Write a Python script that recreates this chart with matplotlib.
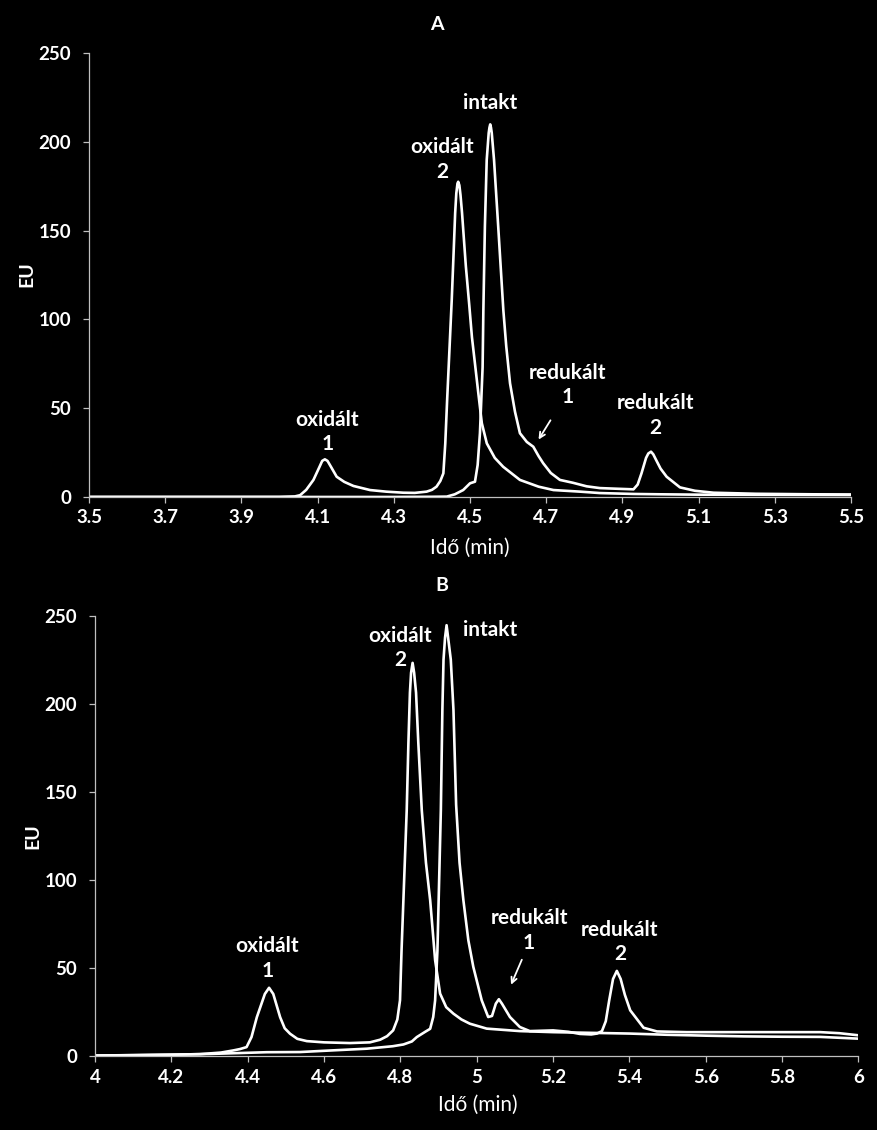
import matplotlib
matplotlib.use("Agg")
import matplotlib.pyplot as plt
import numpy as np

plt.rcParams['font.family'] = ['Lato', 'DejaVu Sans']

# ---- panel A data (time in min, signal in EU) ----
a_ox_t = [3.5, 3.9, 4.0, 4.04, 4.054, 4.07, 4.089, 4.105, 4.112, 4.119, 4.126, 4.135, 4.150,
          4.17, 4.194, 4.2375, 4.28, 4.325, 4.355, 4.386, 4.400, 4.412, 4.422, 4.430, 4.435,
          4.440, 4.446, 4.452, 4.457, 4.461, 4.464, 4.467, 4.469, 4.472, 4.475, 4.479, 4.484,
          4.489, 4.498, 4.505, 4.513, 4.522, 4.531, 4.544, 4.565, 4.587, 4.631, 4.68, 4.719,
          4.789, 4.841, 4.929, 5.0, 5.1, 5.3, 5.5]
a_ox_y = [0, 0, 0, 0.3, 1.0, 4.0, 9.6, 17, 20.3, 21.2, 20.3, 17, 11.4,
          8.5, 6.2, 3.9, 3.0, 2.4, 2.3, 3.0, 4.0, 5.8, 9.0, 13.3, 30,
          55, 83, 111, 138, 160, 171, 176.5, 177.5, 175.5, 170, 160, 145,
          130, 108, 90, 75, 58, 41.5, 30.2, 22, 17, 9.6, 5.8, 3.9,
          3.0, 2.2, 1.7, 1.5, 1.3, 1.2, 1.1]

a_int_t = [3.5, 4.0, 4.3, 4.4, 4.439, 4.46, 4.482, 4.5, 4.513, 4.52, 4.526, 4.533, 4.535,
           4.539, 4.5438, 4.549, 4.551, 4.553, 4.555, 4.557, 4.563, 4.574, 4.5875, 4.595,
           4.605, 4.618, 4.631, 4.649, 4.666, 4.68, 4.692, 4.712, 4.736, 4.77, 4.806, 4.841,
           4.89, 4.929, 4.940, 4.950, 4.962, 4.968, 4.975, 4.981, 4.988, 5.0, 5.016, 5.051,
           5.09, 5.139, 5.25, 5.4, 5.5]
a_int_y = [0, 0, 0, 0.1, 0.2, 1.5, 3.9, 7.7, 8.6, 18, 35.9, 73, 105,
           152.2, 189.8, 205, 208, 209.8, 208, 205, 189.8, 152.2, 105, 85,
           64, 48, 35.9, 31, 28.3, 23, 19, 13.5, 9.6, 8.0, 6.0, 5.0,
           4.6, 4.3, 7, 13.3, 22, 24.5, 25.5, 24, 21, 16, 11.4, 5.4,
           3.5, 2.4, 1.8, 1.5, 1.4]

# ---- panel B data ----
b_ox_t = [4.0, 4.1, 4.2, 4.275, 4.33, 4.362, 4.38, 4.397, 4.41, 4.424, 4.445, 4.456, 4.467,
          4.485, 4.497, 4.511, 4.53, 4.555, 4.6, 4.668, 4.72, 4.747, 4.765, 4.781, 4.792,
          4.799, 4.803, 4.8166, 4.821, 4.825, 4.828, 4.832, 4.836, 4.841, 4.847, 4.856, 4.867,
          4.878, 4.891, 4.904, 4.92, 4.939, 4.96, 4.982, 5.026, 5.113, 5.2, 5.3, 5.4, 5.5,
          5.6, 5.7, 5.8, 5.9, 5.95, 6.0]
b_ox_y = [0.5, 0.7, 1.0, 1.3, 2.2, 3.4, 4.2, 5.3, 11, 22.3, 35.5, 39.0, 35.5,
          22.3, 16, 12.9, 10, 8.7, 8.0, 7.6, 8.0, 9.5, 11.5, 14.8, 21,
          31.9, 60, 140, 178, 206.7, 218, 223.6, 218, 206.7, 178, 140, 110,
          88.8, 54.7, 35.7, 28, 24.3, 21, 18.6, 15.8, 14.4, 13.8, 13.4, 13.0, 12.3,
          11.8, 11.4, 11.2, 11.1, 10.6, 10.1]

b_int_t = [4.0, 4.2, 4.3, 4.45, 4.537, 4.6, 4.712, 4.78, 4.808, 4.83, 4.843, 4.865, 4.878,
           4.886, 4.891, 4.895, 4.897, 4.906, 4.910, 4.913, 4.917, 4.921, 4.925, 4.932, 4.939,
           4.946, 4.955, 4.965, 4.978, 4.991, 5.013, 5.030, 5.04, 5.05, 5.058, 5.066, 5.087,
           5.113, 5.139, 5.17, 5.2, 5.24, 5.27, 5.3, 5.315, 5.328, 5.338, 5.347, 5.357, 5.367,
           5.377, 5.388, 5.402, 5.437, 5.472, 5.55, 5.7, 5.9, 5.95, 6.0]
b_int_y = [0.5, 1.0, 1.4, 2.4, 2.5, 3.2, 4.4, 5.8, 6.8, 8.5, 11, 14, 15.7,
           22.4, 31.9, 50.9, 60, 140, 197, 225.5, 238, 245, 238, 225.5, 197,
           143, 110, 88.8, 66, 50.9, 31.9, 22.4, 23, 30, 32.5, 30, 22.4,
           16.7, 14.4, 14.6, 14.8, 14.0, 12.8, 12.5, 13.0, 14.4, 20, 31.9, 44, 48.6,
           44, 35, 26.2, 16.3, 14.2, 13.8, 13.8, 13.8, 13.2, 12.0]

a_xticks = [3.5, 3.7, 3.9, 4.1, 4.3, 4.5, 4.7, 4.9, 5.1, 5.3, 5.5]
a_xlabels = ["3.5", "3.7", "3.9", "4.1", "4.3", "4.5", "4.7", "4.9", "5.1", "5.3", "5.5"]
b_xticks = [4.0, 4.2, 4.4, 4.6, 4.8, 5.0, 5.2, 5.4, 5.6, 5.8, 6.0]
b_xlabels = ["4", "4.2", "4.4", "4.6", "4.8", "5", "5.2", "5.4", "5.6", "5.8", "6"]
yticks = [0, 50, 100, 150, 200, 250]

# peak labels: (text, x, y)
a_labels = [("oxidált\n1", 4.125, 36.6), ("oxidált\n2", 4.4265, 190),
            ("intakt", 4.552, 222), ("redukált\n1", 4.755, 63), ("redukált\n2", 4.986, 46)]
a_arrow = ((4.715, 44.5), (4.676, 31))
b_labels = [("oxidált\n1", 4.451, 55.8), ("oxidált\n2", 4.799, 232),
            ("intakt", 5.035, 242), ("redukált\n1", 5.137, 71.7), ("redukált\n2", 5.375, 65)]
b_arrow = ((5.121, 56.4), (5.087, 39.3))

fig = plt.figure(figsize=(8.77, 11.3), dpi=100, facecolor='black')
axA = fig.add_axes([0.1015, 0.5602, 0.8689, 0.3929])
axB = fig.add_axes([0.1083, 0.0651, 0.8706, 0.3894])

panels = [
    (axA, a_ox_t, a_ox_y, a_int_t, a_int_y, (3.5, 5.5), a_xticks, a_xlabels, a_labels, a_arrow),
    (axB, b_ox_t, b_ox_y, b_int_t, b_int_y, (4.0, 6.0), b_xticks, b_xlabels, b_labels, b_arrow),
]

for ax, t1, y1, t2, y2, xlim, xt, xl, labels, arrow in panels:
    ax.set_facecolor('black')
    ax.plot(t1, y1, color='white', lw=1.9, solid_joinstyle='round')
    ax.plot(t2, y2, color='white', lw=1.9, solid_joinstyle='round')
    ax.set_xlim(*xlim)
    ax.set_ylim(0, 250)
    ax.set_xticks(xt)
    ax.set_xticklabels(xl)
    ax.set_yticks(yticks)
    for s in ['top', 'right']:
        ax.spines[s].set_visible(False)
    for s in ['left', 'bottom']:
        ax.spines[s].set_color('#bfbfbf')
        ax.spines[s].set_linewidth(0.9)
    ax.tick_params(axis='both', colors='#bfbfbf', labelcolor='white', length=4, width=0.9,
                   labelsize=13.5)
    ax.tick_params(axis='y', pad=9)
    ax.tick_params(axis='x', pad=5)
    for lab in ax.get_xticklabels() + ax.get_yticklabels():
        lab.set_fontweight('bold')
    for txt, x, y in labels:
        ax.text(x, y, txt, color='white', ha='center', va='center', fontsize=15,
                fontweight='bold', linespacing=1.3)
    ax.annotate('', xy=arrow[1], xytext=arrow[0],
                arrowprops=dict(arrowstyle='->', color='white', lw=1.3))

fig.text(0.498, 0.978, "A", color='white', ha='center', va='center', fontsize=14, fontweight='bold')
fig.text(0.504, 0.482, "B", color='white', ha='center', va='center', fontsize=14, fontweight='bold')
fig.text(0.536, 0.515, "Idő (min)", color='white', ha='center', va='center', fontsize=15)
fig.text(0.545, 0.022, "Idő (min)", color='white', ha='center', va='center', fontsize=15)
fig.text(0.031, 0.757, "EU", color='white', ha='center', va='center', fontsize=14,
         fontweight='bold', rotation=90)
fig.text(0.038, 0.26, "EU", color='white', ha='center', va='center', fontsize=14,
         fontweight='bold', rotation=90)

fig.savefig("out.png", dpi=100, facecolor='black')
